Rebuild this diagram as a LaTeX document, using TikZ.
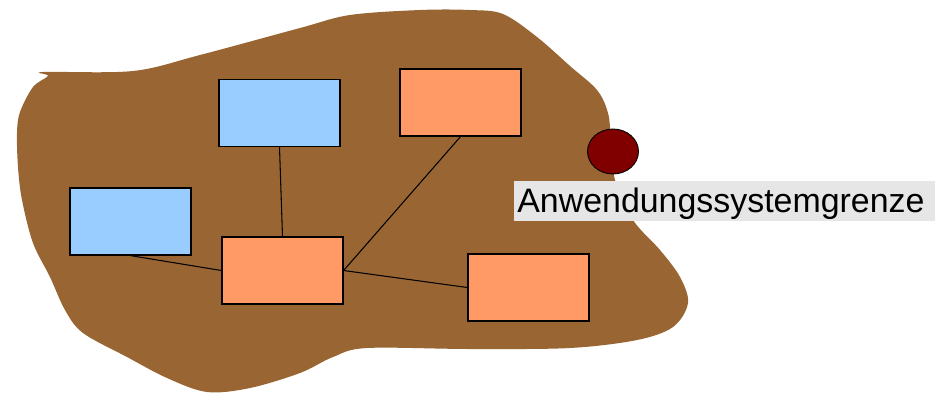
\documentclass[tikz,border=0pt]{standalone}
\usepackage{fontspec}
\setmainfont{Liberation Sans}
\usetikzlibrary{shapes.geometric}
\definecolor{erde}{RGB}{153,102,51}
\definecolor{hellblau}{RGB}{153,204,255}
\definecolor{lachs}{RGB}{255,153,102}
\definecolor{dunkelrot}{RGB}{128,0,0}
\definecolor{hellgrau}{RGB}{230,230,230}
\tikzset{
  baustein/.style={draw=black, line width=0.7pt, minimum width=2.42cm, minimum height=1.34cm, inner sep=0pt},
  extern/.style={baustein, fill=hellblau},
  intern/.style={baustein, fill=lachs},
  verbindung/.style={draw=black, line width=0.6pt},
}
\begin{document}
\begin{tikzpicture}[x=0.02cm, y=-0.02cm]
\useasboundingbox (0,0) rectangle (940,393);
% system boundary area
\fill[erde] plot[smooth cycle, tension=0.55] coordinates {
  (43,72) (133,71) (200,55) (300,28) (350,15) (420,10) (470,10) (503,14)
  (537,37) (570,66) (597,90) (608,113) (611,140) (615,180) (633,220)
  (660,250) (680,277) (688,303) (673,327) (637,340) (570,348) (470,349)
  (367,348) (333,357) (300,373) (250,388) (207,392) (167,378) (127,357)
  (83,333) (65,310) (50,277) (33,243) (22,200) (18,167) (17,133) (20,112)
  (33,87) (48,76)};
% components
\node[extern] (bt) at (279.5,112.75) {};
\node[intern] (ot) at (460.5,102.5) {};
\node[extern] (bl) at (130.5,221.5) {};
\node[intern] (oc) at (282.5,270.5) {};
\node[intern] (ob) at (528.5,287.5) {};
% connections
\draw[verbindung] (bt.south) -- (oc.north);
\draw[verbindung] (ot.south) -- (oc.east);
\draw[verbindung] (bl.south) -- (oc.west);
\draw[verbindung] (oc.east) -- (ob.west);
% boundary marker and its label
\node[ellipse, draw=black, line width=0.5pt, fill=dunkelrot, minimum width=1.02cm, minimum height=0.9cm, inner sep=0pt] (punkt) at (613,151.5) {};
\fill[hellgrau] (514,181) rectangle (935,221);
\node[anchor=base west, inner sep=0pt, font=\fontsize{19.3}{23}\selectfont] (grenze) at (517,212) {Anwendungssystemgrenze};
\end{tikzpicture}
\end{document}
